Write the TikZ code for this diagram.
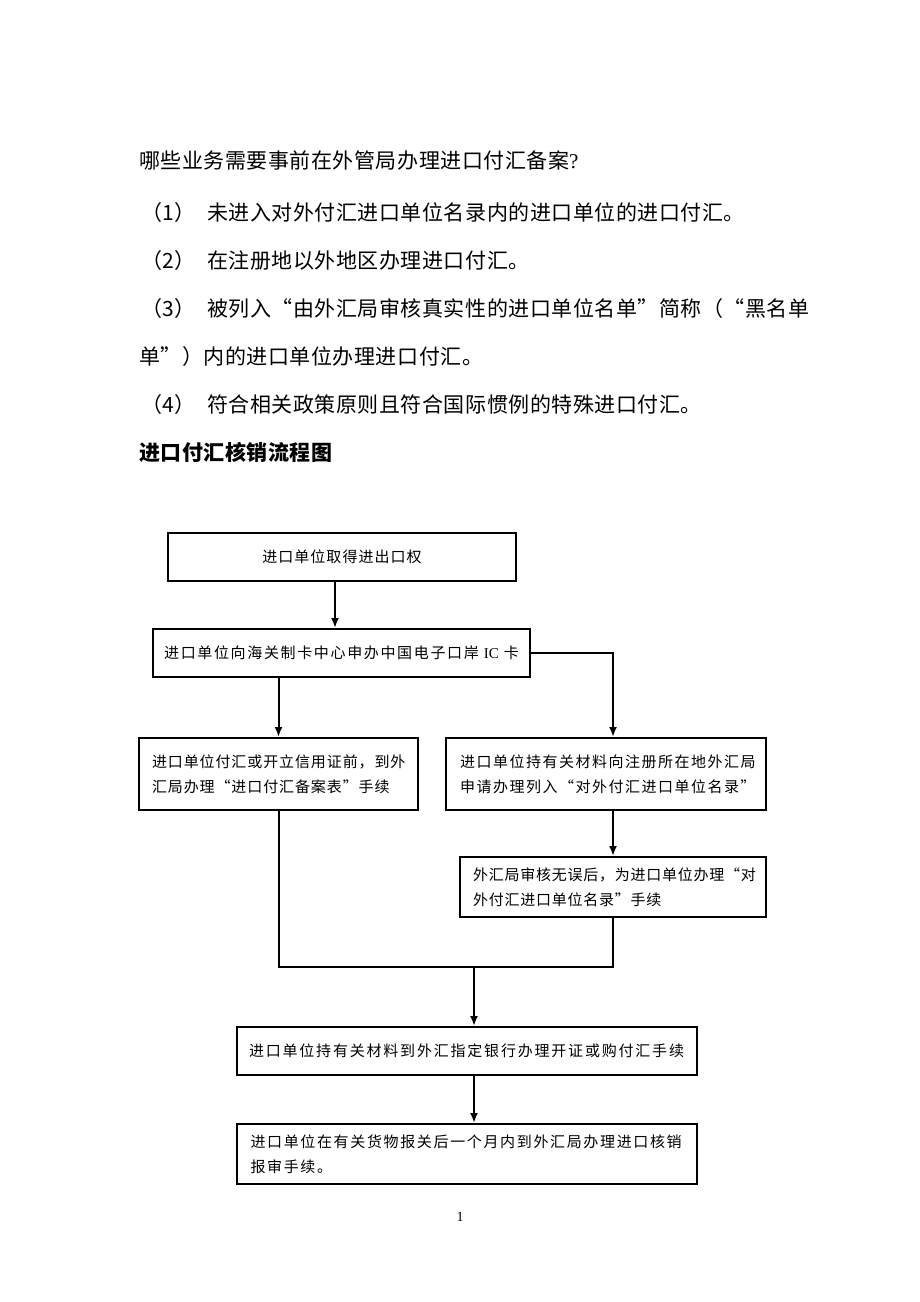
\documentclass[tikz,border=0pt]{standalone}
\usepackage{fontspec}
\setmainfont{Liberation Serif}
\newfontfamily\cjk{Noto Sans CJK SC}
\newfontfamily\cjkt[LetterSpace=2.5]{Noto Sans CJK SC}
\usetikzlibrary{arrows.meta}
\newcommand\lsp[1]{\addfontfeature{LetterSpace=#1}}
\tikzset{
  box/.style={draw, line width=2pt, inner ysep=0pt, minimum height=#1,
    font=\cjk\fontsize{15}{25}\selectfont},
  ctr/.style={align=center, inner xsep=4pt},
  lft/.style={align=left},
  arr/.style={line width=2pt, -{Latex[length=10pt,width=8pt]}},
  ln/.style={line width=2pt},
  txt/.style={anchor=west, inner sep=0pt, font=\cjkt\fontsize{21}{21}\selectfont}
}
\begin{document}
\begin{tikzpicture}[x=1pt,y=-1pt]
\useasboundingbox (0,0) rectangle (920,1302);
\fill[white] (0,0) rectangle (920,1302);

% upper text
\node[txt] (l0) at (139,160) {哪些业务需要事前在外管局办理进口付汇备案{\rmfamily ?}};
\node[txt] (l1) at (141,213) {\makebox[66pt][l]{（1）}未进入对外付汇进口单位名录内的进口单位的进口付汇。};
\node[txt] (l2) at (141,261) {\makebox[66pt][l]{（2）}在注册地以外地区办理进口付汇。};
\node[txt] (l3) at (141,309) {\makebox[66pt][l]{（3）}被列入“由外汇局审核真实性的进口单位名单”简称（“黑名单};
\node[txt] (l3b) at (139,357) {单”）内的进口单位办理进口付汇。};
\node[txt] (l4) at (141,405) {\makebox[66pt][l]{（4）}符合相关政策原则且符合国际惯例的特殊进口付汇。};
\node[txt] (hd) at (139,452) {\bfseries 进口付汇核销流程图};

% boxes
\node[box=48pt, ctr, text width=340pt] (b1) at (342,557) {\lsp{7}进口单位取得进出口权};
\node[box=48pt, ctr, text width=369pt] (b2) at (341.5,653) {\lsp{11}进口单位向海关制卡中心申办中国电子口岸{\rmfamily\ IC }卡};
\node[box=72pt, lft, inner xsep=13pt, text width=253pt] (b3) at (278.5,774)
  {\lsp{6}进口单位付汇或开立信用证前，到外\\汇局办理“进口付汇备案表”手续};
\node[box=72pt, lft, inner xsep=14pt, text width=292pt] (b4) at (606,774)
  {\lsp{10}进口单位持有关材料向注册所在地外汇局\\申请办理列入“对外付汇进口单位名录”};
\node[box=60pt, lft, inner xsep=13pt, text width=280pt] (b5) at (613,887)
  {\lsp{5}外汇局审核无误后，为进口单位办理“对\\外付汇进口单位名录”手续};
\node[box=48pt, ctr, text width=452pt] (b6) at (466.5,1051)
  {\lsp{12}进口单位持有关材料到外汇指定银行办理开证或购付汇手续};
\node[box=60pt, lft, inner xsep=14pt, text width=432pt] (b7) at (466.5,1154)
  {\fontsize{15}{23}\selectfont\lsp{11}进口单位在有关货物报关后一个月内到外汇局办理进口核销\\报审手续。};

\node[inner sep=0pt, font=\fontsize{14}{14}\selectfont] (pg) at (460,1217) {1};

% connectors
\draw[arr] ([xshift=-7pt]b1.south) -- ([xshift=-7pt]b1.south |- b2.north);
\draw[arr] (b2.east) -| ([xshift=7pt]b4.north);
\draw[arr] (b3.north |- b2.south) -- (b3.north);
\draw[arr] ([xshift=7pt]b4.south) -- (b5.north);
\coordinate (m) at (474,967);
\draw[ln] (b3.south) |- (m);
\draw[ln] (b5.south) |- (m);
\draw[arr] (m) -- (m |- b6.north);
\draw[arr] (m |- b6.south) -- (m |- b7.north);
\end{tikzpicture}
\end{document}
